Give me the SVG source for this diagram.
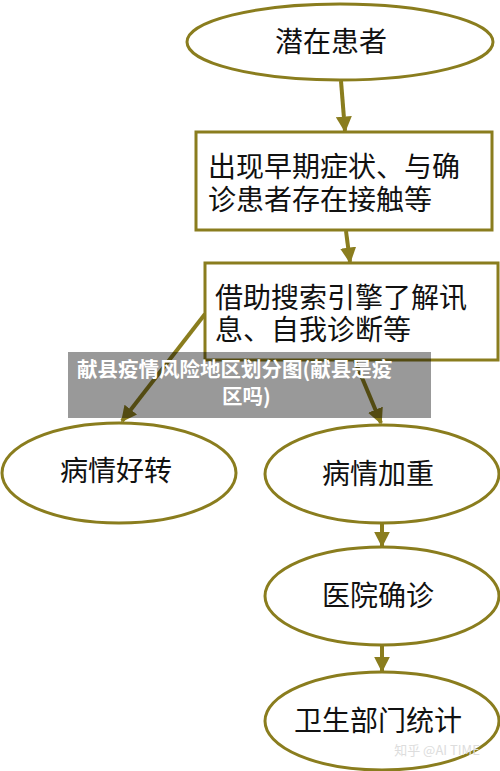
<svg xmlns="http://www.w3.org/2000/svg" width="500" height="771" viewBox="0 0 500 771">
<style>
.n{fill:#fff;stroke:#8a7d1e;stroke-width:3}
.t{font-family:"Noto Sans CJK SC","Noto Sans",sans-serif;font-size:28px;fill:#111}
.c{stroke:#8a7d1e;stroke-width:4;fill:none}
.w{font-family:"Noto Sans CJK SC","Noto Sans",sans-serif;font-size:20.5px;font-weight:bold;fill:#fff}
</style>
<defs>
<marker id="ah" viewBox="0 0 10 10" refX="9" refY="5" markerWidth="4" markerHeight="4" orient="auto" markerUnits="strokeWidth">
<path d="M0,0 L10,5 L0,10 z" fill="#8a7d1e"/>
</marker>
</defs>
<rect width="500" height="771" fill="#fff"/>
<g id="connectors">
<line class="c" x1="341" y1="81" x2="345" y2="131" marker-end="url(#ah)"/>
<line class="c" x1="346" y1="231" x2="350" y2="262" marker-end="url(#ah)"/>
<line class="c" x1="205" y1="314" x2="122" y2="421" marker-end="url(#ah)"/>
<line class="c" x1="355" y1="361" x2="381" y2="423" marker-end="url(#ah)"/>
<line class="c" x1="382" y1="524" x2="382" y2="546" marker-end="url(#ah)"/>
<line class="c" x1="382" y1="646" x2="382" y2="671" marker-end="url(#ah)"/>
</g>
<g id="n1">
<ellipse class="n" cx="340" cy="42" rx="153" ry="38"/>
<text class="t" x="331" y="52" text-anchor="middle">潜在患者</text>
</g>
<g id="n2">
<rect class="n" x="196" y="132" width="296" height="98"/>
<text class="t" x="208" y="177">出现早期症状、与确</text>
<text class="t" x="208" y="210">诊患者存在接触等</text>
</g>
<g id="n3">
<rect class="n" x="205" y="263" width="293" height="97"/>
<text class="t" x="215" y="308">借助搜索引擎了解讯</text>
<text class="t" x="215" y="340">息、自我诊断等</text>
</g>
<g id="n4">
<ellipse class="n" cx="119" cy="473" rx="117" ry="50"/>
<text class="t" x="116" y="481" text-anchor="middle">病情好转</text>
</g>
<g id="n5">
<ellipse class="n" cx="382" cy="474" rx="117" ry="49"/>
<text class="t" x="378" y="484" text-anchor="middle">病情加重</text>
</g>
<g id="n6">
<ellipse class="n" cx="382" cy="596" rx="117" ry="49"/>
<text class="t" x="378" y="606" text-anchor="middle">医院确诊</text>
</g>
<g id="n7">
<ellipse class="n" cx="382" cy="721" rx="117" ry="49"/>
<text class="t" x="378" y="731" text-anchor="middle">卫生部门统计</text>
</g>
<g id="overlay">
<rect x="68" y="352" width="363" height="66" fill="#000" fill-opacity="0.4"/>
<text class="w" x="77" y="377">献县疫情风险地区划分图(献县是疫</text>
<text class="w" x="222" y="404">区吗)</text>
</g>
<text x="437" y="755" font-family="'Noto Sans CJK SC','Noto Sans',sans-serif" font-size="13" fill="#ddd" text-anchor="middle">知乎 @AI TIME</text>
</svg>
